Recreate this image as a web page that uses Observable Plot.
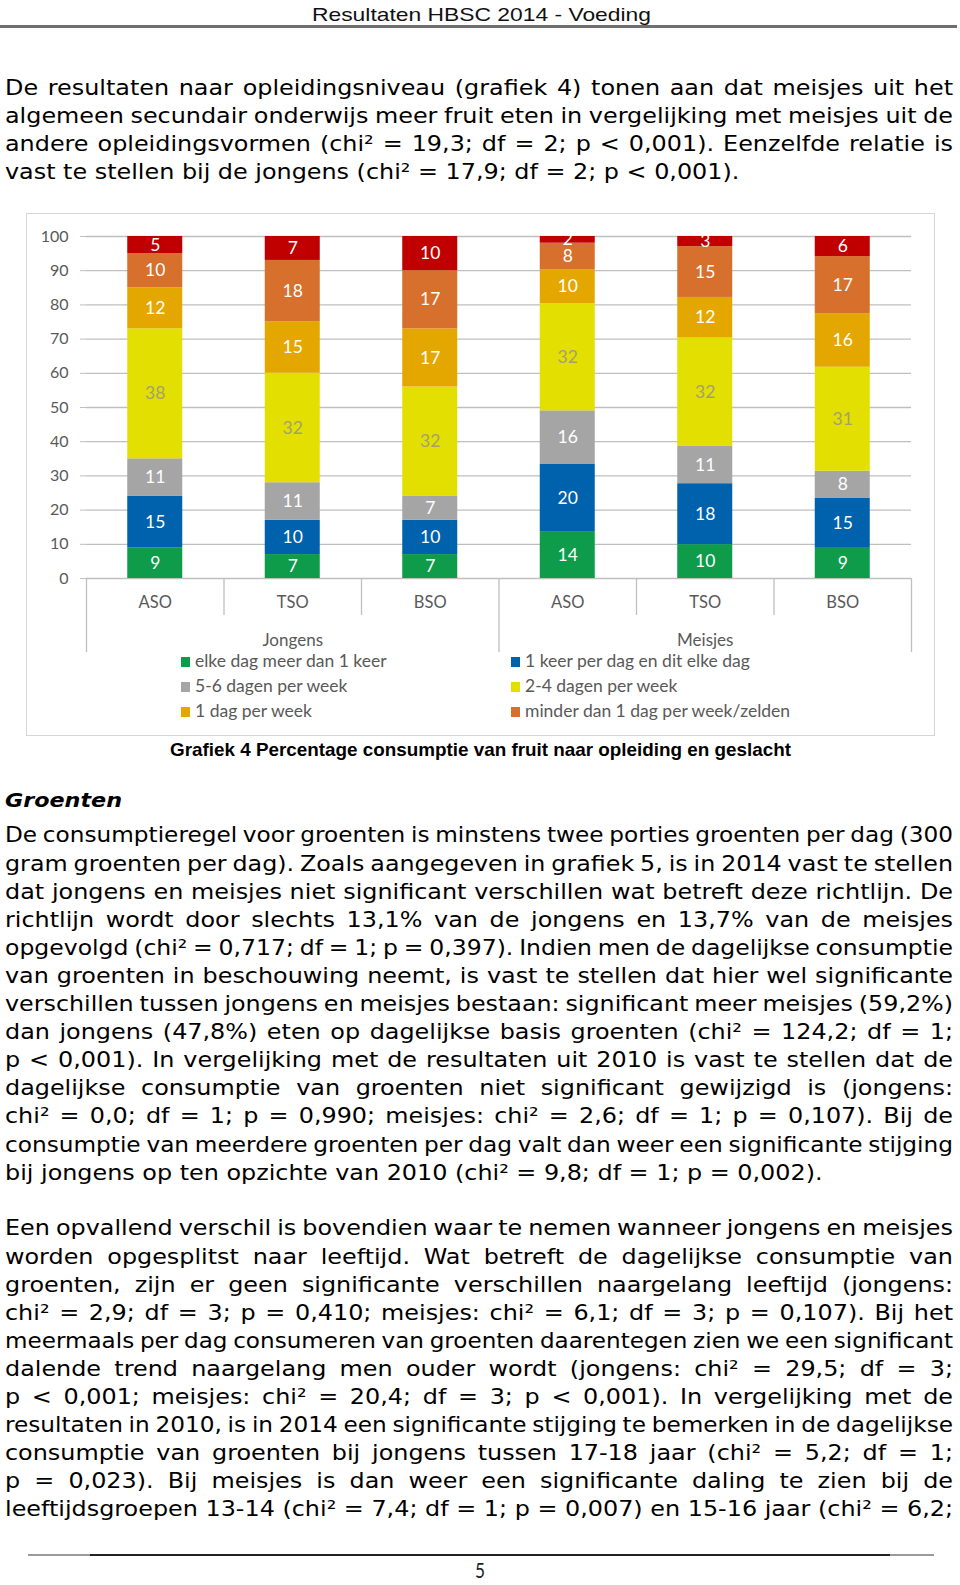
<!DOCTYPE html>
<html><head><meta charset="utf-8">
<script src="https://cdn.jsdelivr.net/npm/d3@7"></script>
<script src="https://cdn.jsdelivr.net/npm/@observablehq/plot@0.6"></script>
<style>
html,body{margin:0;padding:0;background:#fff;}
body{width:960px;height:1585px;position:relative;overflow:hidden;}
.abs{position:absolute;white-space:nowrap;}
.bodytext{font-family:"DejaVu Sans",Verdana,sans-serif;font-size:21.5px;line-height:28px;color:#000;left:5px;transform-origin:0 50%;}
.fit{transform-origin:0 50%;}
#box{position:absolute;left:26px;top:213px;width:909px;height:523px;border:1.5px solid #d6d6d6;box-sizing:border-box;}
#chart{position:absolute;left:26px;top:213px;}
.leg{position:absolute;font-family:Lato,sans-serif;font-size:17.5px;color:#595959;line-height:20px;white-space:nowrap;}
.sw{display:inline-block;width:9px;height:10px;margin-right:5px;vertical-align:0px;}
</style></head><body>
<div id="chart"></div>
<div id="box"></div>
<script>
// ---- chart data ----
const groups = ["Jongens", "Jongens", "Jongens", "Meisjes", "Meisjes", "Meisjes"];
const levels = ["ASO", "TSO", "BSO", "ASO", "TSO", "BSO"];
const seriesNames = [
  "elke dag meer dan 1 keer",
  "1 keer per dag en dit elke dag",
  "5-6 dagen per week",
  "2-4 dagen per week",
  "1 dag per week",
  "minder dan 1 dag per week/zelden",
  "nooit"
];
const seriesColors = ["#0e9c4a", "#0061ad", "#a5a5a5", "#e3df00", "#e4a700", "#d6702c", "#c00000"];
const elkeDagMeer   = [9, 7, 7, 14, 10, 9];
const eenKeerPerDag = [15, 10, 10, 20, 18, 15];
const vijfZesDagen  = [11, 11, 7, 16, 11, 8];
const tweeVierDagen = [38, 32, 32, 32, 32, 31];
const eenDagPerWeek = [12, 15, 17, 10, 12, 16];
const minderDan     = [10, 18, 17, 8, 15, 17];
const nooit         = [5, 7, 10, 2, 3, 6];
const seriesValues = [elkeDagMeer, eenKeerPerDag, vijfZesDagen, tweeVierDagen, eenDagPerWeek, minderDan, nooit];
const yTickLabels = [0, 10, 20, 30, 40, 50, 60, 70, 80, 90, 100];
const legendOrder = [0, 1, 2, 3, 4, 5]; // red series not in legend

const rows = [];
levels.forEach((lvl, i) => seriesNames.forEach((s, k) => rows.push({idx: i, group: groups[i], level: lvl, series: s, value: seriesValues[k][i]})));
const yellow = seriesNames[3];
const gridColor = "#bfbfbf";
const yTicks = yTickLabels.map(v => v / 100);
const levelTicks = levels.map((_, i) => i + 0.5);
const innerSeps = levels.map((_, i) => i).filter(i => i > 0 && groups[i] === groups[i - 1]);
const outerSeps = [0, ...levels.map((_, i) => i).filter(i => i > 0 && groups[i] !== groups[i - 1]), levels.length];
const groupNames = [...new Set(groups)];
const groupTicks = groupNames.map(g => { const ix = groups.map((x, i) => x === g ? i : -1).filter(i => i >= 0); return (ix[0] + ix[ix.length - 1] + 1) / 2; });

const stackOpts = {y: "value", z: "series", order: seriesNames, offset: "normalize"};
const chart = Plot.plot({
  width: 909, height: 445,
  marginLeft: 60, marginRight: 24, marginTop: 23, marginBottom: 80,
  style: {fontFamily: "Lato, sans-serif", fontSize: "16px", color: "#595959", background: "transparent", overflow: "visible"},
  x: {type: "linear", domain: [0, levels.length]},
  y: {domain: [0, 1]},
  color: {domain: seriesNames, range: seriesColors},
  marks: [
    Plot.ruleY(yTicks, {stroke: gridColor, strokeWidth: 1.3}),
    Plot.axisY({ticks: yTicks, tickFormat: d => String(Math.round(d * 100)), tickSize: 6, tickPadding: 12, stroke: gridColor, fill: "#595959", fontSize: 16, label: null}),
    Plot.rect(rows, Plot.stackY({...stackOpts, x: "idx", x1: "idx", x2: d => d.idx + 1, fill: "series", insetLeft: 41.25, insetRight: 41.25})),
    Plot.text(rows, Plot.stackY({...stackOpts, x: d => d.idx + 0.5, text: d => d.series === yellow ? null : String(d.value), fill: "white", fontSize: 17.5})),
    Plot.text(rows, Plot.stackY({...stackOpts, x: d => d.idx + 0.5, text: d => d.series === yellow ? String(d.value) : null, fill: "#a3a070", fontSize: 17.5})),
    Plot.axisX({ticks: levelTicks, tickFormat: d => levels[Math.floor(d)], tickSize: 0, tickPadding: 18, fill: "#595959", fontSize: 16.5, label: null}),
    Plot.axisX({ticks: innerSeps, tickFormat: () => "", tickSize: 37, stroke: gridColor, strokeWidth: 1.3, label: null}),
    Plot.axisX({ticks: outerSeps, tickFormat: () => "", tickSize: 74, stroke: gridColor, strokeWidth: 1.3, label: null}),
    Plot.axisX({ticks: groupTicks, tickFormat: d => groupNames[groupTicks.indexOf(d)], tickSize: 0, tickPadding: 55, fill: "#595959", fontSize: 17, label: null})
  ]
});
document.getElementById("chart").appendChild(chart);

// ---- legend ----
const legPos = [[181, 661], [511, 661], [181, 686], [511, 686], [181, 711], [511, 711]];
legendOrder.forEach((k, j) => {
  const el = document.createElement("div");
  el.className = "leg";
  el.style.left = legPos[j][0] + "px";
  el.style.top = (legPos[j][1] - 10) + "px";
  el.innerHTML = `<span class="sw" style="background:${seriesColors[k]}"></span>`;
  el.appendChild(document.createTextNode(seriesNames[k]));
  document.body.appendChild(el);
});

// ---- page text ----
function fitText(text, style, left, cy, targetW, fontSize) {
  const el = document.createElement("div");
  el.className = "abs fit";
  el.textContent = text;
  el.style.cssText += style;
  el.style.fontSize = fontSize + "px";
  el.style.lineHeight = "1";
  document.body.appendChild(el);
  const r = el.getBoundingClientRect();
  el.style.left = left + "px";
  el.style.top = (cy - r.height / 2) + "px";
  el.style.transform = `scaleX(${targetW / r.width})`;
  return el;
}
fitText("Resultaten HBSC 2014 - Voeding", "font-family:'Liberation Sans Narrow','Liberation Sans',Arial,sans-serif;color:#111;", 312, 14.5, 339, 19);
fitText("Grafiek 4 Percentage consumptie van fruit naar opleiding en geslacht", "font-family:'Liberation Sans Narrow','Liberation Sans',Arial,sans-serif;font-weight:bold;color:#000;", 170, 750, 621, 18.5);
fitText("Groenten", "font-family:'DejaVu Sans',Verdana,sans-serif;font-weight:bold;font-style:italic;color:#000;", 5, 801, 117, 19.5);
fitText("5", "font-family:Lato,sans-serif;color:#222;", 475, 1569, 10, 21);

function addLine(top, left, width, h, color) {
  const d = document.createElement("div");
  d.style.cssText = `position:absolute;left:${left}px;top:${top}px;width:${width}px;height:${h}px;background:${color}`;
  document.body.appendChild(d);
}
addLine(25, 0, 957, 2.5, "#6f6f6f");
addLine(1554, 28, 906, 2, "#9a9a9a");
addLine(1554, 90, 800, 2, "#222");

const para1 = [
  "De resultaten naar opleidingsniveau (grafiek 4) tonen aan dat meisjes uit het",
  "algemeen secundair onderwijs meer fruit eten in vergelijking met meisjes uit de",
  "andere opleidingsvormen (chi² = 19,3; df = 2; p < 0,001). Eenzelfde relatie is",
  "vast te stellen bij de jongens (chi² = 17,9; df = 2; p < 0,001)."
];
const para2 = [
  "De consumptieregel voor groenten is minstens twee porties groenten per dag (300",
  "gram groenten per dag). Zoals aangegeven in grafiek 5, is in 2014 vast te stellen",
  "dat jongens en meisjes niet significant verschillen wat betreft deze richtlijn. De",
  "richtlijn wordt door slechts 13,1% van de jongens en 13,7% van de meisjes",
  "opgevolgd (chi² = 0,717; df = 1; p = 0,397). Indien men de dagelijkse consumptie",
  "van groenten in beschouwing neemt, is vast te stellen dat hier wel significante",
  "verschillen tussen jongens en meisjes bestaan: significant meer meisjes (59,2%)",
  "dan jongens (47,8%) eten op dagelijkse basis groenten (chi² = 124,2; df = 1;",
  "p < 0,001). In vergelijking met de resultaten uit 2010 is vast te stellen dat de",
  "dagelijkse consumptie van groenten niet significant gewijzigd is (jongens:",
  "chi² = 0,0; df = 1; p = 0,990; meisjes: chi² = 2,6; df = 1; p = 0,107). Bij de",
  "consumptie van meerdere groenten per dag valt dan weer een significante stijging",
  "bij jongens op ten opzichte van 2010 (chi² = 9,8; df = 1; p = 0,002)."
];
const para3 = [
  "Een opvallend verschil is bovendien waar te nemen wanneer jongens en meisjes",
  "worden opgesplitst naar leeftijd. Wat betreft de dagelijkse consumptie van",
  "groenten, zijn er geen significante verschillen naargelang leeftijd (jongens:",
  "chi² = 2,9; df = 3; p = 0,410; meisjes: chi² = 6,1; df = 3; p = 0,107). Bij het",
  "meermaals per dag consumeren van groenten daarentegen zien we een significant",
  "dalende trend naargelang men ouder wordt (jongens: chi² = 29,5; df = 3;",
  "p < 0,001; meisjes: chi² = 20,4; df = 3; p < 0,001). In vergelijking met de",
  "resultaten in 2010, is in 2014 een significante stijging te bemerken in de dagelijkse",
  "consumptie van groenten bij jongens tussen 17-18 jaar (chi² = 5,2; df = 1;",
  "p = 0,023). Bij meisjes is dan weer een significante daling te zien bij de",
  "leeftijdsgroepen 13-14 (chi² = 7,4; df = 1; p = 0,007) en 15-16 jaar (chi² = 6,2;"
];
const WIDE = 1.11;   // Verdana is wider than DejaVu Sans
const TARGET = 948;
function placeLines(lines, startCenter, spacing, lastJustify) {
  lines.forEach((t, i) => {
    const el = document.createElement("div");
    el.className = "abs bodytext";
    el.textContent = t;
    el.style.top = (startCenter + i * spacing - 13.6) + "px";
    document.body.appendChild(el);
    const w = el.getBoundingClientRect().width;
    const n = (t.match(/ /g) || []).length;
    let s = WIDE;
    if (i < lines.length - 1 || lastJustify) {
      const minWs = -1.5;
      if ((TARGET / s - w) / n < minWs) s = TARGET / (w + minWs * n);
      el.style.wordSpacing = ((TARGET / s - w) / n) + "px";
    }
    el.style.transform = `scaleX(${s})`;
  });
}
placeLines(para1, 87.5, 28, false);
placeLines(para2, 835, 28.1, false);
placeLines(para3, 1228, 28.1, true);
</script>
</body></html>
